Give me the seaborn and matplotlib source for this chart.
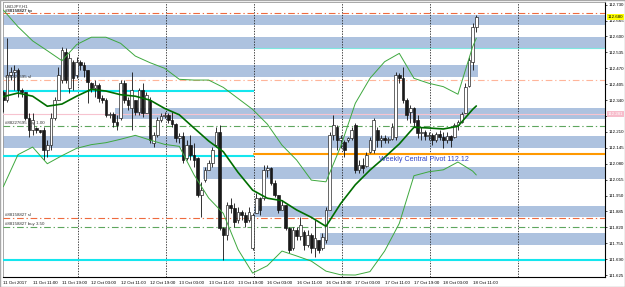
import numpy as np
import pandas as pd
import matplotlib
matplotlib.use("Agg")
import matplotlib.pyplot as plt
import seaborn as sns
from matplotlib.transforms import blended_transform_factory
from matplotlib.patches import Rectangle

# ---------------- data (USDJPY H1, bars from 11 Oct 2017 03:00) ----------------
opens = [112.373, 112.340, 112.443, 112.455, 112.463, 112.381, 112.373, 112.267, 112.218, 112.226,
         112.218, 112.218, 112.136, 112.156, 112.267, 112.340, 112.422, 112.537, 112.390, 112.496,
         112.443, 112.496, 112.484, 112.463, 112.410, 112.390, 112.402, 112.349, 112.340, 112.279,
         112.283, 112.250, 112.267, 112.410, 112.340, 112.308, 112.340, 112.291, 112.381, 112.287,
         112.340, 112.165, 112.197, 112.259, 112.275, 112.279, 112.259, 112.242, 112.185, 112.193,
         112.103, 112.156, 112.116, 112.103, 111.952, 112.013, 112.054, 112.083, 112.156, 112.210,
         111.817, 111.789, 111.911, 111.899, 111.850, 111.883, 111.870, 111.850, 111.735, 111.878,
         111.940, 111.940, 112.054, 112.062, 112.001, 111.952, 111.891, 111.911, 111.817, 111.735,
         111.809, 111.785, 111.801, 111.748, 111.789, 111.735, 111.768, 111.735, 111.768, 111.891,
         112.197, 112.230, 112.177, 112.169, 112.177, 112.185, 112.238, 112.054, 112.075, 112.071,
         112.128, 112.136, 112.218, 112.177, 112.185, 112.177, 112.181, 112.189, 112.443, 112.430,
         112.340, 112.291, 112.308, 112.259, 112.205, 112.210, 112.193, 112.197, 112.177, 112.201,
         112.189, 112.177, 112.193, 112.189, 112.238, 112.250, 112.287, 112.398, 112.496, 112.639]
highs = [112.381, 112.594, 112.475, 112.484, 112.471, 112.390, 112.373, 112.287, 112.287, 112.230,
         112.218, 112.230, 112.177, 112.287, 112.353, 112.475, 112.557, 112.553, 112.533, 112.504,
         112.516, 112.504, 112.496, 112.463, 112.414, 112.422, 112.410, 112.361, 112.349, 112.291,
         112.291, 112.279, 112.422, 112.422, 112.353, 112.455, 112.340, 112.390, 112.410, 112.373,
         112.353, 112.210, 112.271, 112.287, 112.291, 112.287, 112.291, 112.246, 112.205, 112.210,
         112.177, 112.197, 112.165, 112.107, 112.005, 112.067, 112.095, 112.148, 112.230, 112.238,
         111.821, 111.923, 111.940, 111.919, 111.903, 111.891, 111.883, 111.903, 111.878, 111.960,
         111.944, 112.075, 112.075, 112.067, 112.013, 111.952, 111.932, 111.911, 111.821, 111.821,
         111.821, 111.862, 111.809, 111.809, 111.797, 111.850, 111.768, 111.797, 111.903, 112.210,
         112.279, 112.238, 112.197, 112.177, 112.189, 112.230, 112.246, 112.095, 112.103, 112.128,
         112.189, 112.267, 112.230, 112.197, 112.197, 112.189, 112.246, 112.455, 112.451, 112.475,
         112.349, 112.320, 112.312, 112.279, 112.230, 112.218, 112.210, 112.205, 112.210, 112.218,
         112.210, 112.210, 112.197, 112.246, 112.259, 112.291, 112.410, 112.516, 112.655, 112.688]
lows = [112.291, 112.332, 112.422, 112.381, 112.353, 112.353, 112.259, 112.189, 112.197, 112.205,
        112.205, 112.095, 112.107, 112.136, 112.259, 112.340, 112.410, 112.410, 112.369, 112.381,
        112.430, 112.463, 112.434, 112.328, 112.373, 112.353, 112.332, 112.328, 112.271, 112.267,
        112.230, 112.218, 112.259, 112.328, 112.300, 112.218, 112.279, 112.279, 112.271, 112.287,
        112.165, 112.148, 112.189, 112.250, 112.267, 112.246, 112.230, 112.169, 112.165, 112.083,
        112.095, 112.095, 112.067, 111.944, 111.862, 112.005, 112.054, 112.067, 112.148, 111.809,
        111.686, 111.768, 111.878, 111.821, 111.838, 111.850, 111.821, 111.842, 111.727, 111.878,
        111.870, 111.932, 112.026, 111.993, 111.944, 111.878, 111.891, 111.809, 111.715, 111.727,
        111.768, 111.768, 111.727, 111.739, 111.715, 111.699, 111.715, 111.727, 111.756, 111.891,
        112.177, 112.136, 112.144, 112.107, 112.169, 112.177, 112.042, 112.042, 112.042, 112.067,
        112.124, 112.124, 112.148, 112.148, 112.165, 112.165, 112.177, 112.177, 112.410, 112.328,
        112.259, 112.246, 112.230, 112.185, 112.177, 112.177, 112.177, 112.156, 112.169, 112.177,
        112.144, 112.165, 112.148, 112.185, 112.218, 112.246, 112.287, 112.394, 112.463, 112.618]
closes = [112.340, 112.443, 112.455, 112.463, 112.381, 112.373, 112.267, 112.218, 112.259, 112.218,
          112.210, 112.136, 112.156, 112.267, 112.340, 112.443, 112.545, 112.422, 112.512, 112.430,
          112.496, 112.484, 112.463, 112.414, 112.390, 112.402, 112.349, 112.340, 112.279, 112.283,
          112.250, 112.238, 112.410, 112.340, 112.320, 112.381, 112.291, 112.381, 112.287, 112.361,
          112.177, 112.197, 112.259, 112.275, 112.279, 112.259, 112.242, 112.185, 112.193, 112.095,
          112.156, 112.116, 112.095, 111.952, 111.972, 112.054, 112.083, 112.136, 112.210, 111.817,
          111.789, 111.911, 111.899, 111.842, 111.883, 111.870, 111.842, 111.883, 111.870, 111.940,
          111.891, 112.054, 112.062, 112.001, 111.952, 111.891, 111.911, 111.817, 111.727, 111.809,
          111.785, 111.829, 111.748, 111.789, 111.735, 111.776, 111.727, 111.780, 111.891, 112.197,
          112.238, 112.177, 112.185, 112.136, 112.185, 112.218, 112.054, 112.075, 112.062, 112.116,
          112.177, 112.259, 112.177, 112.185, 112.177, 112.181, 112.230, 112.443, 112.430, 112.340,
          112.279, 112.308, 112.250, 112.205, 112.210, 112.193, 112.197, 112.177, 112.201, 112.189,
          112.177, 112.193, 112.177, 112.238, 112.250, 112.283, 112.394, 112.504, 112.639, 112.680]

# Bollinger band readings (bar index, price)
bb_bars = [0, 4, 8, 12, 16, 20, 24, 28, 32, 36, 40, 44, 48, 52, 56, 60, 64,
           68, 72, 76, 80, 84, 88, 92, 96, 100, 104, 108, 112, 116, 120, 124, 128, 129]
bb_upper = [112.708, 112.640, 112.582, 112.542, 112.501, 112.567, 112.597, 112.597, 112.572,
            112.520, 112.493, 112.470, 112.425, 112.422, 112.422, 112.392, 112.347, 112.302,
            112.242, 112.156, 112.095, 112.013, 112.006, 112.150, 112.327, 112.429, 112.497,
            112.531, 112.429, 112.409, 112.395, 112.364, 112.558, 112.593]
bb_middle = [112.354, 112.369, 112.356, 112.315, 112.324, 112.356, 112.384, 112.377, 112.362,
             112.356, 112.340, 112.306, 112.280, 112.226, 112.173, 112.129, 112.045, 111.972,
             111.939, 111.929, 111.891, 111.861, 111.824, 111.917, 111.994, 112.054, 112.106,
             112.161, 112.229, 112.226, 112.222, 112.233, 112.302, 112.316]
bb_lower = [111.986, 112.117, 112.148, 112.080, 112.113, 112.143, 112.158, 112.166, 112.180,
            112.196, 112.177, 112.159, 112.151, 112.035, 111.940, 111.877, 111.730, 111.633,
            111.663, 111.723, 111.703, 111.682, 111.641, 111.626, 111.625, 111.639, 111.723,
            111.836, 112.031, 112.047, 112.055, 112.087, 112.050, 112.034]

# supply / demand zones (price range, first bar, last bar; None = chart edge)
zone_low = [112.647, 112.549, 112.434, 112.263, 112.144, 112.017, 111.862, 111.748]
zone_high = [112.688, 112.598, 112.484, 112.308, 112.193, 112.067, 111.907, 111.797]
zone_from = [None, None, None, 30.5, None, 54.5, 68.5, 86.5]
zone_to = [None, None, 129.5, None, None, None, None, None]

# horizontal levels
cyan_levels = [112.377, 112.112, 111.686]
cyan_from = [None, None, None]
cyan_to = [68.5, 68.5, None]
thin_cyan_level = 112.555
pivot_level = 112.12
pink_level = 112.282
order_prices = [112.695, 112.424, 112.235, 111.858, 111.821]
order_labels = ["#88158827 tp", "#88227695 sl", "#88227695 buy 1.00", "#88158827 sl", "#88158827 buy 3.50"]
order_kind = ["stop", "stop_light", "entry", "stop", "entry"]

day_separators = [20.5, 44.5, 68.5, 92.5, 116.5, 140.5]
time_tick_bars = [0, 8, 16, 24, 32, 40, 48, 56, 64, 72, 80, 88, 96, 104, 112, 120, 128]
time_tick_labels = ["11 Oct 2017", "11 Oct 11:00", "11 Oct 19:00", "12 Oct 03:00", "12 Oct 11:00",
                    "12 Oct 19:00", "13 Oct 03:00", "13 Oct 11:00", "13 Oct 19:00", "16 Oct 03:00",
                    "16 Oct 11:00", "16 Oct 19:00", "17 Oct 03:00", "17 Oct 11:00", "17 Oct 19:00",
                    "18 Oct 03:00", "18 Oct 11:00"]
price_ticks = [112.730, 112.665, 112.600, 112.535, 112.470, 112.405, 112.340, 112.275, 112.210,
               112.145, 112.080, 112.015, 111.950, 111.885, 111.820, 111.755, 111.690, 111.625]
last_price = 112.680
pink_label = 112.281

# ---------------- drawing ----------------
sns.set_style("white")
plt.rcParams['font.family'] = ['Liberation Sans', 'DejaVu Sans']

W, H = 625, 287
fig = plt.figure(figsize=(W / 100, H / 100), dpi=100)
fig.patch.set_facecolor("white")
ax = fig.add_axes([2.5 / W, 10 / H, (605 - 2.5) / W, 275 / H])
XL, XR = -0.22, 164.1
ax.set_xlim(XL, XR)
ax.set_ylim(111.617, 112.741)

df = pd.DataFrame({"open": opens, "high": highs, "low": lows, "close": closes})
df["bar"] = np.arange(len(df))

def edge(v, default):
    return default if v is None else v

# zones
for lo, hi, a, b in zip(zone_low, zone_high, zone_from, zone_to):
    ax.fill_between([edge(a, XL - 5), edge(b, XR + 5)], lo, hi, color="#adc2df",
                    lw=0, zorder=1)

# day separators
for s in day_separators:
    ax.axvline(s, color="#222222", lw=0.6, ls=(0, (1.6, 1.6)), zorder=2)

# levels
for lvl, a, b in zip(cyan_levels, cyan_from, cyan_to):
    ax.plot([edge(a, XL - 5), edge(b, XR + 5)], [lvl, lvl], color="#14e6ee", lw=1.5, zorder=3,
            solid_capstyle="butt")
ax.plot([68.5, XR + 5], [thin_cyan_level] * 2, color="#7fe6e0", lw=0.8, zorder=3)
ax.plot([68.5, XR + 5], [pivot_level] * 2, color="#ff9900", lw=1.5, zorder=3)
ax.axhline(pink_level, color="#f7c3cf", lw=0.8, zorder=3)

kind_color = {"stop": "#ee6a3e", "stop_light": "#ffb59a", "entry": "#5ea65e"}
for p, lab, k in zip(order_prices, order_labels, order_kind):
    ax.axhline(p, color=kind_color[k], lw=0.8, ls=(0, (6, 2.5, 1.2, 2.5)), zorder=3)
    ax.text(0.45, p + 0.003, lab, fontsize=3.2, color="#333333", ha="left", va="bottom",
            zorder=8, fontweight="bold" if k == "stop" and p > 112.6 else "normal")

ax.text(102.5, pivot_level - 0.01, "Weekly Central Pivot 112.12", fontsize=5.1,
        color="#3344c4", ha="left", va="top", zorder=8)

# Bollinger bands
bb = pd.DataFrame({"bar": bb_bars, "upper": bb_upper, "middle": bb_middle, "lower": bb_lower})
sns.lineplot(data=bb, x="bar", y="upper", ax=ax, color="#3ea83e", lw=0.7, zorder=6)
sns.lineplot(data=bb, x="bar", y="lower", ax=ax, color="#3ea83e", lw=0.7, zorder=6)
sns.lineplot(data=bb, x="bar", y="middle", ax=ax, color="#006e00", lw=1.2, zorder=6)

# candles
up = df["close"] >= df["open"]
ax.vlines(df["bar"], df["low"], df["high"], color="#111111", lw=0.6, zorder=4)
body_lo = np.minimum(df["open"], df["close"])
body_h = np.maximum(np.abs(df["close"] - df["open"]), 0.0008)
ax.bar(df["bar"], body_h, bottom=body_lo, width=0.72,
       color=np.where(up, "white", "#1a1a1a"), edgecolor="#111111", linewidth=0.45, zorder=5)

# axes styling
for side in ["top", "left"]:
    ax.spines[side].set_color("#9a9a9a")
    ax.spines[side].set_linewidth(0.6)
for side in ["right", "bottom"]:
    ax.spines[side].set_color("black")
    ax.spines[side].set_linewidth(0.8)

ax.yaxis.tick_right()
ax.set_yticks(price_ticks)
ax.set_yticklabels(["" if abs(p - pink_label) < 0.01 else f"{p:.3f}" for p in price_ticks])
ax.tick_params(axis="y", which="both", direction="out", length=1.5, width=0.5, pad=1.2,
               labelsize=3.2, colors="black", left=False, right=True)
ax.set_xticks(time_tick_bars)
ax.set_xticklabels(time_tick_labels, ha="left")
ax.tick_params(axis="x", direction="out", length=2.2, width=0.5, pad=0.8, labelsize=3.2,
               colors="black")
ax.set_xlabel("")
ax.set_ylabel("")
ax.grid(False)

trans = blended_transform_factory(ax.transAxes, ax.transData)
ax.text(1.004, last_price, f"{last_price:.3f}", transform=trans, fontsize=3.2, color="black",
        ha="left", va="center", clip_on=False, zorder=10,
        bbox=dict(boxstyle="square,pad=0.2", fc="#ffff00", ec="none"))
ax.text(1.004, pink_level, f"{pink_label:.3f}", transform=trans, fontsize=3.2,
        color="white", ha="left", va="center", clip_on=False, zorder=10,
        bbox=dict(boxstyle="square,pad=0.2", fc="#f7bccb", ec="none"))

ax.text(0.004, 0.99, "USDJPY,H1", transform=ax.transAxes, fontsize=3.2, color="#333333",
        ha="left", va="top", zorder=9)

fig.patches.append(Rectangle((0, 0), 1, 1, transform=fig.transFigure, fill=False,
                             ec="#a8a8a8", lw=1.0))

fig.savefig("out.png", dpi=100)
